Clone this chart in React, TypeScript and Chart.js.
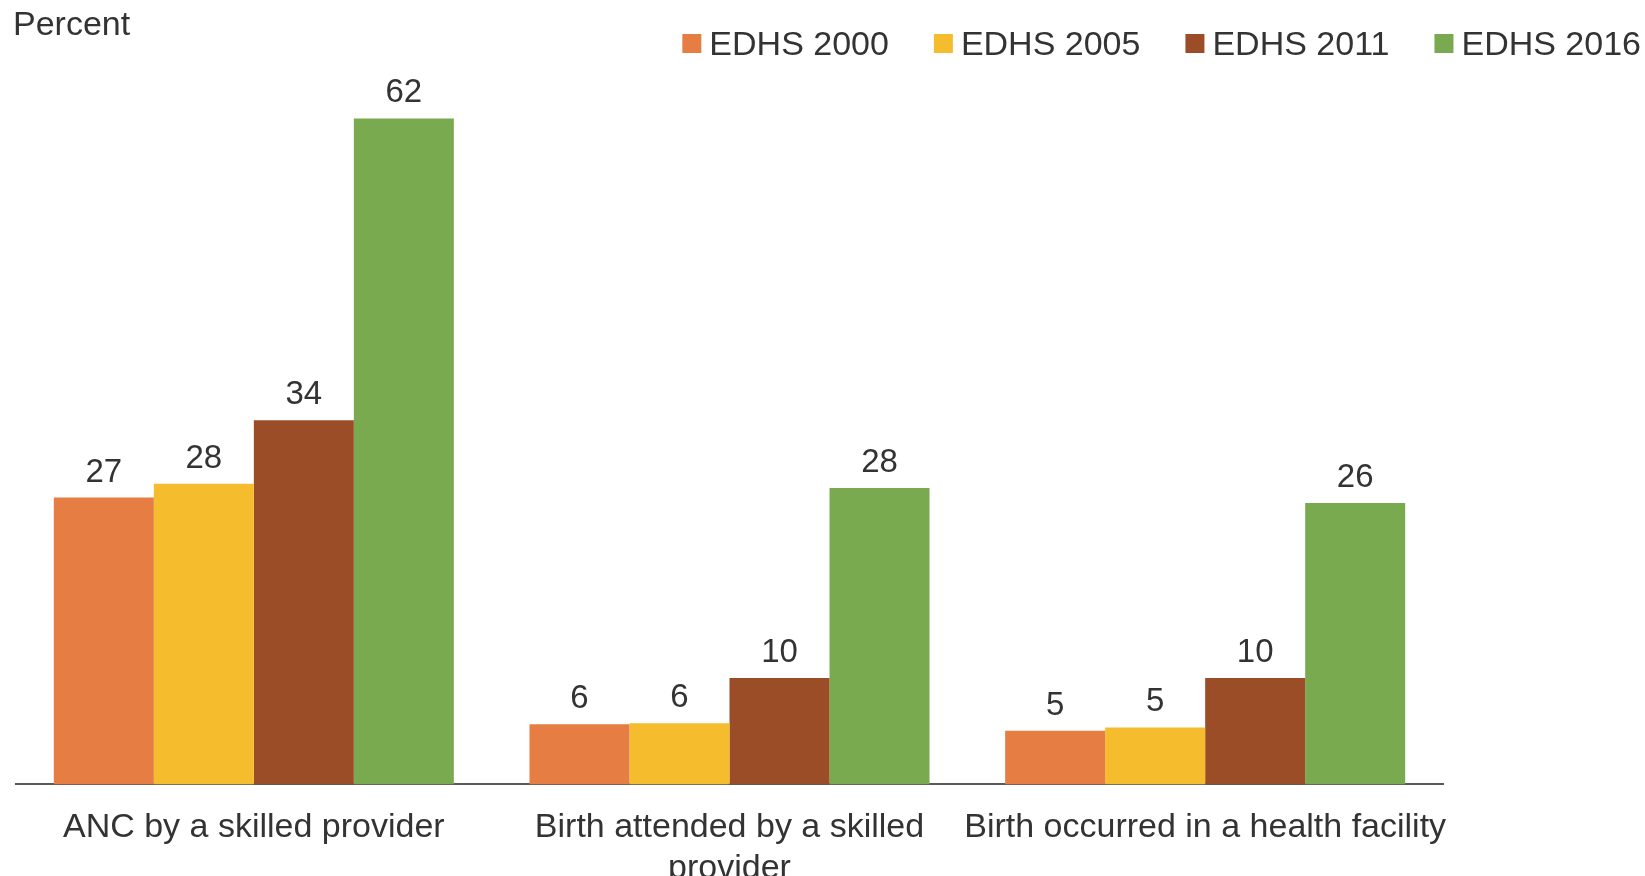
import React, { useEffect, useRef } from "react";
import { Chart, registerables } from "chart.js";

Chart.register(...registerables);

const categories: (string | string[])[] = [
  "ANC by a skilled provider",
  ["Birth attended by a skilled", "provider"],
  "Birth occurred in a health facility",
];
const seriesNames = ["EDHS 2000", "EDHS 2005", "EDHS 2011", "EDHS 2016"];
const edhs2000 = [26.7, 5.6, 5.0];
const edhs2005 = [28.0, 5.7, 5.3];
const edhs2011 = [33.9, 9.9, 9.9];
const edhs2016 = [62.0, 27.6, 26.2];
const seriesColors = ["#E67E44", "#F5BD2E", "#9B4D27", "#7AAA50"];
const axisTitle = "Percent";

const FONT = '"Liberation Sans", Arial, Helvetica, sans-serif';
const TEXT = "#333333";

const overlayPlugin = {
  id: "overlay",
  afterDatasetsDraw(chart: any) {
    const ctx = chart.ctx;
    ctx.save();
    // data labels
    ctx.fillStyle = TEXT;
    ctx.font = `33px ${FONT}`;
    ctx.textAlign = "center";
    ctx.textBaseline = "alphabetic";
    chart.data.datasets.forEach((ds: any, i: number) => {
      const meta = chart.getDatasetMeta(i);
      meta.data.forEach((el: any, j: number) => {
        ctx.fillText(String(Math.round(ds.data[j])), el.x, el.y - 16);
      });
    });
    // axis title
    ctx.font = `34px ${FONT}`;
    ctx.textAlign = "left";
    ctx.fillText(axisTitle, 13, 35);
    // legend
    const box = 19;
    const gap = 8;
    const spacing = 45;
    const widths = chart.data.datasets.map(
      (ds: any) => box + gap + ctx.measureText(ds.label).width
    );
    const total =
      widths.reduce((a: number, b: number) => a + b, 0) +
      spacing * (widths.length - 1);
    let x = chart.width - 4 - total;
    chart.data.datasets.forEach((ds: any, i: number) => {
      ctx.fillStyle = ds.backgroundColor;
      ctx.fillRect(x, 34, box, box);
      ctx.fillStyle = TEXT;
      ctx.fillText(ds.label, x + box + gap, 55);
      x += widths[i] + spacing;
    });
    ctx.restore();
  },
};

export default function App() {
  const ref = useRef<HTMLCanvasElement>(null);
  useEffect(() => {
    const canvas = ref.current!;
    const data = [edhs2000, edhs2005, edhs2011, edhs2016];
    const chart = new Chart(canvas, {
      type: "bar",
      data: {
        labels: categories,
        datasets: seriesNames.map((name, i) => ({
          label: name,
          data: data[i],
          backgroundColor: seriesColors[i],
          borderWidth: 0,
          categoryPercentage: 0.841,
          barPercentage: 1,
        })),
      },
      options: {
        responsive: false,
        animation: false,
        events: [],
        layout: { padding: { top: 54, left: 16, right: 202, bottom: 0 } },
        plugins: {
          legend: { display: false },
          tooltip: { enabled: false },
          title: { display: false },
        },
        scales: {
          x: {
            grid: { display: false, drawTicks: false },
            border: { display: true, color: "#595959", width: 2 },
            ticks: {
              color: TEXT,
              font: { family: FONT, size: 34 },
              padding: 23,
              maxRotation: 0,
              autoSkip: false,
            },
          },
          y: {
            display: false,
            min: 0,
            max: 68,
          },
        },
      },
      plugins: [overlayPlugin],
    });
    return () => chart.destroy();
  }, []);
  return (
    <div
      style={{
        position: "fixed",
        left: 0,
        top: 0,
        width: 1645,
        height: 876,
        overflow: "hidden",
        background: "#fff",
      }}
    >
      <canvas ref={ref} width={1645} height={912} style={{ display: "block" }} />
    </div>
  );
}
